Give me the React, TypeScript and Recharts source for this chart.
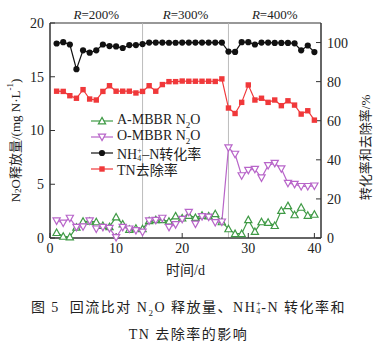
import React from 'react';
import { ComposedChart, Legend, Line, ReferenceDot, ReferenceLine, XAxis, YAxis } from 'recharts';

const SERIF = '"Liberation Serif", "Noto Sans CJK SC", serif';

const days = [
  1, 2, 3, 4, 5, 6, 7, 8, 9, 10, 11, 12, 13, 14, 15, 16, 17, 18, 19, 20,
  21, 22, 23, 24, 25, 26, 27, 28, 29, 30, 31, 32, 33, 34, 35, 36, 37, 38, 39, 40,
];
// N2O, mg N/L (left axis)
const aMbbrN2O = [
  0.5, 0.15, 0.1, 1.0, 1.55, 1.55, 1.5, 1.15, 1.05, 1.95, 1.3, 0.8, 0.9, 0.85, 1.6, 1.7, 1.7, 1.55, 2.05, 1.85,
  2.1, 1.9, 2.1, 2.05, 2.25, 1.5, 0.85, 0.4, 0.4, 1.7, 0.6, 1.5, 1.45, 1.15, 2.55, 3.0, 2.15, 2.85, 2.1, 2.2,
];
const oMbbrN2O = [
  1.6, 1.4, 1.85, 1.0, 1.05, 1.6, 0.85, 1.0, 0.9, 0.05, 1.0, 0.85, 0.7, 0.55, 1.6, 1.65, 1.85, 1.0, 1.25, 1.75,
  2.4, 1.3, 2.0, 1.95, 1.45, 1.5, 8.4, 7.8, 5.8, 6.3, 6.4, 5.6, 6.75, 6.95, 6.45, 5.1, 5.0, 4.8, 4.8, 4.85,
];
// rates, % (right axis)
const nh4Conversion = [
  99.5, 100.2, 99, 86.4, 96, 94.8, 96, 99, 98.2, 98, 97.2, 98.7, 98.7, 99.2, 100, 100, 100, 99.9, 99.9, 100,
  100, 100, 100, 100, 100, 100, 95.4, 95.2, 100.2, 100.2, 99, 100, 100, 99.8, 99.8, 99.8, 99.6, 96, 98.5, 95.1,
];
const tnRemoval = [
  75.1, 75, 72.8, 71.5, 75.9, 71.1, 70.6, 75, 77.9, 75.1, 75.1, 75.1, 74.2, 75, 77.9, 75.1, 78.5, 80, 80, 80.3,
  80.2, 80.2, 80.2, 80.2, 80.1, 81.4, 66.5, 63.7, 69.4, 78.3, 70.6, 71.5, 69.4, 70.6, 67.7, 70.2, 68, 63.4, 65.1, 60.3,
];

const phaseBreaks = [14, 27];
const phaseCenters = [7, 20.5, 34];
const phaseLabels = ['200%', '300%', '400%'];

const xTicks = [0, 10, 20, 30, 40];
const leftTicks = [0, 5, 10, 15, 20];
const rightTicks = [0, 20, 40, 60, 80, 100];

const data = days.map((day, i) => ({
  day,
  a: aMbbrN2O[i],
  o: oMbbrN2O[i],
  nh4: nh4Conversion[i],
  tn: tnRemoval[i],
}));

const GREEN = '#3f9a45';
const PURPLE = '#b865c9';
const BLACK = '#111111';
const RED = '#f0383a';
const AXIS = '#333333';

type DotProps = { cx?: number; cy?: number; index?: number };

function TriUp({ cx, cy }: DotProps) {
  if (cx == null || cy == null) return null;
  const s = 3.6;
  return (
    <path
      d={`M${cx},${cy - s} L${cx + s},${cy + s * 0.8} L${cx - s},${cy + s * 0.8} Z`}
      fill="#fff"
      stroke={GREEN}
      strokeWidth={1.2}
    />
  );
}

function TriDown({ cx, cy }: DotProps) {
  if (cx == null || cy == null) return null;
  const s = 3.6;
  return (
    <path
      d={`M${cx},${cy + s} L${cx + s},${cy - s * 0.8} L${cx - s},${cy - s * 0.8} Z`}
      fill="#fff"
      stroke={PURPLE}
      strokeWidth={1.2}
    />
  );
}

function Circle({ cx, cy }: DotProps) {
  if (cx == null || cy == null) return null;
  return <circle cx={cx} cy={cy} r={3.1} fill={BLACK} />;
}

function Square({ cx, cy }: DotProps) {
  if (cx == null || cy == null) return null;
  return <rect x={cx - 2.7} y={cy - 2.7} width={5.4} height={5.4} fill={RED} />;
}

// NH4+ with the 4 and the + stacked, as in the printed figure
function StackedSubSup() {
  const small = { position: 'absolute' as const, left: 0, fontSize: 8, lineHeight: '8px' };
  return (
    <span style={{ position: 'relative', display: 'inline-block', width: 5, height: 0 }}>
      <span style={{ ...small, top: -12 }}>+</span>
      <span style={{ ...small, top: -4 }}>4</span>
    </span>
  );
}

function LeftTitle({ viewBox }: any) {
  const cx = viewBox.x + 15;
  const cy = viewBox.y + viewBox.height / 2 + 10;
  return (
    <text
      x={cx}
      y={cy}
      transform={`rotate(-90, ${cx}, ${cy})`}
      textAnchor="middle"
      dominantBaseline="central"
      fontFamily={SERIF}
      fontSize={13}
      fill="#222"
    >
      N<tspan fontSize={9} dy={3}>2</tspan>
      <tspan dy={-3}>O释放量/(mg N·L</tspan>
      <tspan fontSize={9} dy={-5}>-1</tspan>
      <tspan dy={5}>)</tspan>
    </text>
  );
}

function RightTitle({ viewBox }: any) {
  const cx = viewBox.x + 44;
  const cy = viewBox.y + viewBox.height / 2 + 17;
  return (
    <text
      x={cx}
      y={cy}
      transform={`rotate(-90, ${cx}, ${cy})`}
      textAnchor="middle"
      dominantBaseline="central"
      fontFamily={SERIF}
      fontSize={13}
      fill="#222"
    >
      转化率和去除率/%
    </text>
  );
}

function BottomTitle({ viewBox }: any) {
  return (
    <text
      x={viewBox.x + viewBox.width / 2}
      y={viewBox.y + 37}
      textAnchor="middle"
      fontFamily={SERIF}
      fontSize={14}
      fill="#222"
    >
      时间/d
    </text>
  );
}

function PhaseLabel({ viewBox, text }: any) {
  return (
    <text x={viewBox.x} y={viewBox.y - 4} textAnchor="middle" fontFamily={SERIF} fontSize={13} fill="#222">
      <tspan fontStyle="italic">R</tspan>={text}
    </text>
  );
}

const legendItems: { key: string; color: string; shape: (p: DotProps) => React.ReactNode; label: React.ReactNode }[] = [
  { key: 'a', color: GREEN, shape: TriUp, label: <>A-MBBR N<sub style={{ fontSize: 9 }}>2</sub>O</> },
  { key: 'o', color: PURPLE, shape: TriDown, label: <>O-MBBR N<sub style={{ fontSize: 9 }}>2</sub>O</> },
  { key: 'nh4', color: BLACK, shape: Circle, label: <>NH<StackedSubSup />–N转化率</> },
  { key: 'tn', color: RED, shape: Square, label: <>TN去除率</> },
];

function LegendBox() {
  return (
    <div style={{ fontFamily: SERIF, fontSize: 14, color: '#222' }}>
      {legendItems.map((it) => (
        <div key={it.key} style={{ display: 'flex', alignItems: 'center', height: 16 }}>
          <svg width={22} height={12} style={{ marginRight: 4 }}>
            <line x1={0} y1={6} x2={22} y2={6} stroke={it.color} strokeWidth={1.2} />
            {it.shape({ cx: 11, cy: 6 })}
          </svg>
          <span style={{ whiteSpace: 'nowrap' }}>{it.label}</span>
        </div>
      ))}
    </div>
  );
}

export default function App() {
  const tick = { fontSize: 14, fill: '#222', fontFamily: SERIF };
  return (
    <div style={{ position: 'absolute', left: 0, top: 0, width: 377, height: 350, background: '#fff' }}>
      <ComposedChart width={377} height={280} data={data} margin={{ top: 23, right: 0, bottom: 0, left: 0 }}>
        <XAxis
          dataKey="day"
          type="number"
          domain={[0, 41]}
          ticks={xTicks}
          height={42}
          tickSize={-5}
          tickMargin={10}
          tick={tick}
          axisLine={{ stroke: AXIS, strokeWidth: 1.5 }}
          tickLine={{ stroke: AXIS }}
          label={<BottomTitle />}
        />
        <YAxis
          yAxisId="left"
          domain={[0, 20]}
          ticks={leftTicks}
          width={50}
          tickSize={-5}
          tickMargin={11}
          tick={tick}
          axisLine={{ stroke: AXIS, strokeWidth: 1.5 }}
          tickLine={{ stroke: AXIS }}
          label={<LeftTitle />}
        />
        <YAxis
          yAxisId="right"
          orientation="right"
          domain={[0, 110]}
          ticks={rightTicks}
          width={56}
          tickSize={-5}
          tickMargin={11}
          tick={tick}
          axisLine={{ stroke: AXIS, strokeWidth: 1.5 }}
          tickLine={{ stroke: AXIS }}
          label={<RightTitle />}
        />
        <ReferenceLine yAxisId="left" y={20} stroke={AXIS} strokeWidth={1.2} />
        {phaseBreaks.map((x) => (
          <ReferenceLine key={x} yAxisId="left" x={x} stroke="#b5b5b5" strokeWidth={0.9} />
        ))}
        {phaseCenters.map((x, i) => (
          <ReferenceDot
            key={x}
            yAxisId="left"
            x={x}
            y={20}
            r={0}
            fill="none"
            stroke="none"
            label={<PhaseLabel text={phaseLabels[i]} />}
          />
        ))}
        <Line
          yAxisId="left"
          dataKey="a"
          stroke={GREEN}
          strokeWidth={1.2}
          dot={(p: any) => <TriUp key={`a${p.index}`} cx={p.cx} cy={p.cy} />}
          isAnimationActive={false}
        />
        <Line
          yAxisId="left"
          dataKey="o"
          stroke={PURPLE}
          strokeWidth={1.2}
          dot={(p: any) => <TriDown key={`o${p.index}`} cx={p.cx} cy={p.cy} />}
          isAnimationActive={false}
        />
        <Line
          yAxisId="right"
          dataKey="nh4"
          stroke={BLACK}
          strokeWidth={1.2}
          dot={(p: any) => <Circle key={`n${p.index}`} cx={p.cx} cy={p.cy} />}
          isAnimationActive={false}
        />
        <Line
          yAxisId="right"
          dataKey="tn"
          stroke={RED}
          strokeWidth={1.2}
          dot={(p: any) => <Square key={`t${p.index}`} cx={p.cx} cy={p.cy} />}
          isAnimationActive={false}
        />
        <Legend
          layout="vertical"
          align="center"
          verticalAlign="middle"
          wrapperStyle={{ left: 91, top: 113, width: 'auto' }}
          content={() => <LegendBox />}
        />
      </ComposedChart>
      <div
        style={{
          position: 'absolute',
          left: 0,
          top: 297,
          width: 377,
          textAlign: 'center',
          fontFamily: SERIF,
          fontSize: 14,
          lineHeight: '22px',
          color: '#222',
          letterSpacing: 1.5,
        }}
      >
        <div>
          图 5&nbsp;&nbsp;回流比对 N<sub style={{ fontSize: 9 }}>2</sub>O 释放量、NH<StackedSubSup />-N 转化率和
        </div>
        <div>TN 去除率的影响</div>
      </div>
    </div>
  );
}
